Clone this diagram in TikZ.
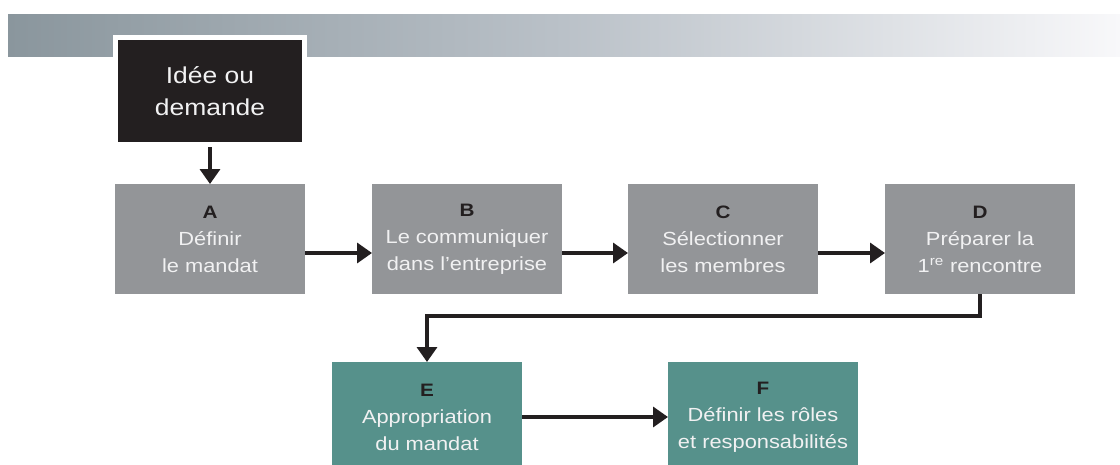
\documentclass[tikz,border=0pt]{standalone}
\usepackage{fontspec}
\setmainfont{Liberation Sans}[FakeStretch=1.15]
\usepackage{xcolor}
\usetikzlibrary{positioning,arrows.meta}

\definecolor{boxgray}{HTML}{939598}
\definecolor{boxteal}{HTML}{56918B}
\definecolor{inkblack}{HTML}{231F20}
\definecolor{boxtext}{HTML}{F1F1F2}
\definecolor{bandleft}{HTML}{8A969D}
\definecolor{bandmid}{HTML}{BAC1C8}
\definecolor{bandright}{HTML}{F8F8FA}

\newcommand{\steplabel}[1]{{\fontsize{18}{27}\selectfont\bfseries\color{inkblack}#1}}

\begin{document}
\begin{tikzpicture}[
    x=1pt, y=-1pt,
    phase/.style={rectangle, fill=boxgray, text=boxtext, minimum width=190pt,
        minimum height=110pt, inner sep=0pt, outer sep=0pt, align=center,
        font=\fontsize{19}{27}\selectfont},
    ownphase/.style={phase, fill=boxteal},
    idea/.style={rectangle, fill=inkblack, draw=white, line width=5pt, text=boxtext,
        minimum width=189pt, minimum height=107pt, inner sep=0pt, align=center,
        font=\fontsize{23}{32}\selectfont},
    arrow/.style={-{Triangle[length=15pt,width=20pt]}, line width=3.5pt, draw=inkblack}
]
    \useasboundingbox (0,0) rectangle (1120,464);
    \fill[white] (0,0) rectangle (1120,464);

    % bandeau du haut
    \shade[left color=bandleft, right color=bandright, middle color=bandmid]
        (8,14) rectangle (1120,56);

    \node[idea] (idee) at (210,91) {Idée ou\\demande};

    \node[phase] (A) at (210,239) {\steplabel{A}\\Définir\\le mandat};
    \node[phase, right=67pt of A] (B) {\steplabel{B}\\Le communiquer\\dans l’entreprise};
    \node[phase, right=66pt of B] (C) {\steplabel{C}\\Sélectionner\\les membres};
    \node[phase, right=67pt of C] (D) {\steplabel{D}\\Préparer la\\1\textsuperscript{re} rencontre};

    \node[ownphase] (E) at (427,417) {\steplabel{E}\\Appropriation\\du mandat};
    \node[ownphase, right=146pt of E] (F) {\steplabel{F}\\Définir les rôles\\et responsabilités};

    \draw[arrow] (idee) -- (A);
    \draw[arrow] ([yshift=-14pt]A.east) -- ([yshift=-14pt]B.west);
    \draw[arrow] ([yshift=-14pt]B.east) -- ([yshift=-14pt]C.west);
    \draw[arrow] ([yshift=-14pt]C.east) -- ([yshift=-14pt]D.west);
    \draw[arrow] (D.south) -- ++(0,22) -| (E.north);
    \draw[arrow] (E) -- (F);
\end{tikzpicture}
\end{document}
